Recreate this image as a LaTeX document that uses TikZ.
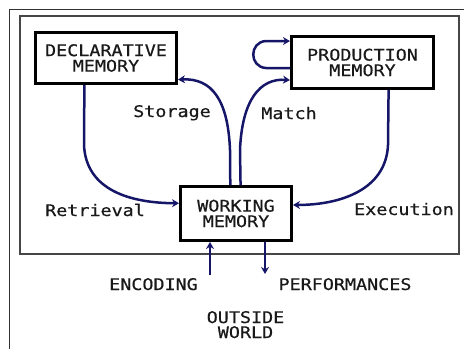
\documentclass[tikz,border=0pt]{standalone}
\usepackage{fontspec}
\usetikzlibrary{arrows.meta,calc}
\newfontfamily\pixfont[FakeStretch=1.15,FakeBold=0.5]{DejaVu Sans Mono}
\definecolor{arrowblue}{RGB}{22,22,105}
\definecolor{framegray}{RGB}{70,70,70}
\begin{document}
\begin{tikzpicture}[x=1pt,y=-1pt,
  every node/.style={font=\pixfont\fontsize{16}{15.5}\selectfont, text=black!90},
  membox/.style={draw=black, line width=3pt, inner sep=0pt, align=center},
  lbl/.style={anchor=base, inner sep=0pt},
  flow/.style={draw=arrowblue, line width=2.5pt, -{Stealth[length=7pt,width=8pt]}},
  flowplain/.style={draw=arrowblue, line width=2.5pt}]
\useasboundingbox (0,0) rectangle (464,349);
\draw[line width=1pt, black!80] (9,349) -- (9,9) -- (464,9);
\draw[line width=1.5pt, framegray] (20,16) rectangle (459,254);

\node[membox, minimum width=141pt, minimum height=51pt] (dm) at (106,58) {DECLARATIVE\\MEMORY};
\node[membox, minimum width=142pt, minimum height=52pt] (pm) at (362.5,62.5) {PRODUCTION\\MEMORY};
\node[membox, minimum width=111pt, minimum height=54pt] (wm) at (236,213.5) {WORKING\\MEMORY};

% Retrieval
\draw[flow] ($(dm.south west)!0.35!(dm.south east)$) -- (84,145)
  .. controls (86,190) and (130,203) .. ($(wm.north west)!0.32!(wm.south west)$);
% Storage
\draw[flow] ($(wm.north west)!0.45!(wm.north east)$) -- (230,150)
  .. controls (228,100) and (212,78) .. ($(dm.north east)!0.9!(dm.south east)$);
% Match
\draw[flow] ($(wm.north west)!0.54!(wm.north east)$) -- (240,150)
  .. controls (242,100) and (260,78) .. ($(pm.north west)!0.82!(pm.south west)$);
% Execution
\draw[flow] ($(pm.south west)!0.68!(pm.south east)$) -- (388,145)
  .. controls (386,190) and (340,205) .. ($(wm.north east)!0.35!(wm.south east)$);
% Self loop
\coordinate (loopa) at (266,68);
\coordinate (loopb) at (266,41);
\draw[flowplain] ($(pm.north west)!0.6!(pm.south west)$) -- (loopa)
  .. controls (249,67) and (249,42) .. (loopb);
\draw[flow] (loopb) -- ($(pm.north west)!0.11!(pm.south west)$);
% Encoding / performances
\coordinate (enc) at (210,275);
\coordinate (perf) at (265,274);
\draw[flow] (enc) -- (enc |- wm.south);
\draw[flow] (perf |- wm.south) -- (perf);

\node[lbl] (storage) at (172,117) {Storage};
\node[lbl] (match) at (289,119) {Match};
\node[lbl] (retrieval) at (95,216) {Retrieval};
\node[lbl] (execution) at (404,215) {Execution};
\node[lbl] (encoding) at (153.5,290) {ENCODING};
\node[lbl] (performances) at (345,290) {PERFORMANCES};
\node[lbl] (outside) at (245.5,323) {OUTSIDE};
\node[lbl] (world) at (245.5,338) {WORLD};
\end{tikzpicture}
\end{document}
